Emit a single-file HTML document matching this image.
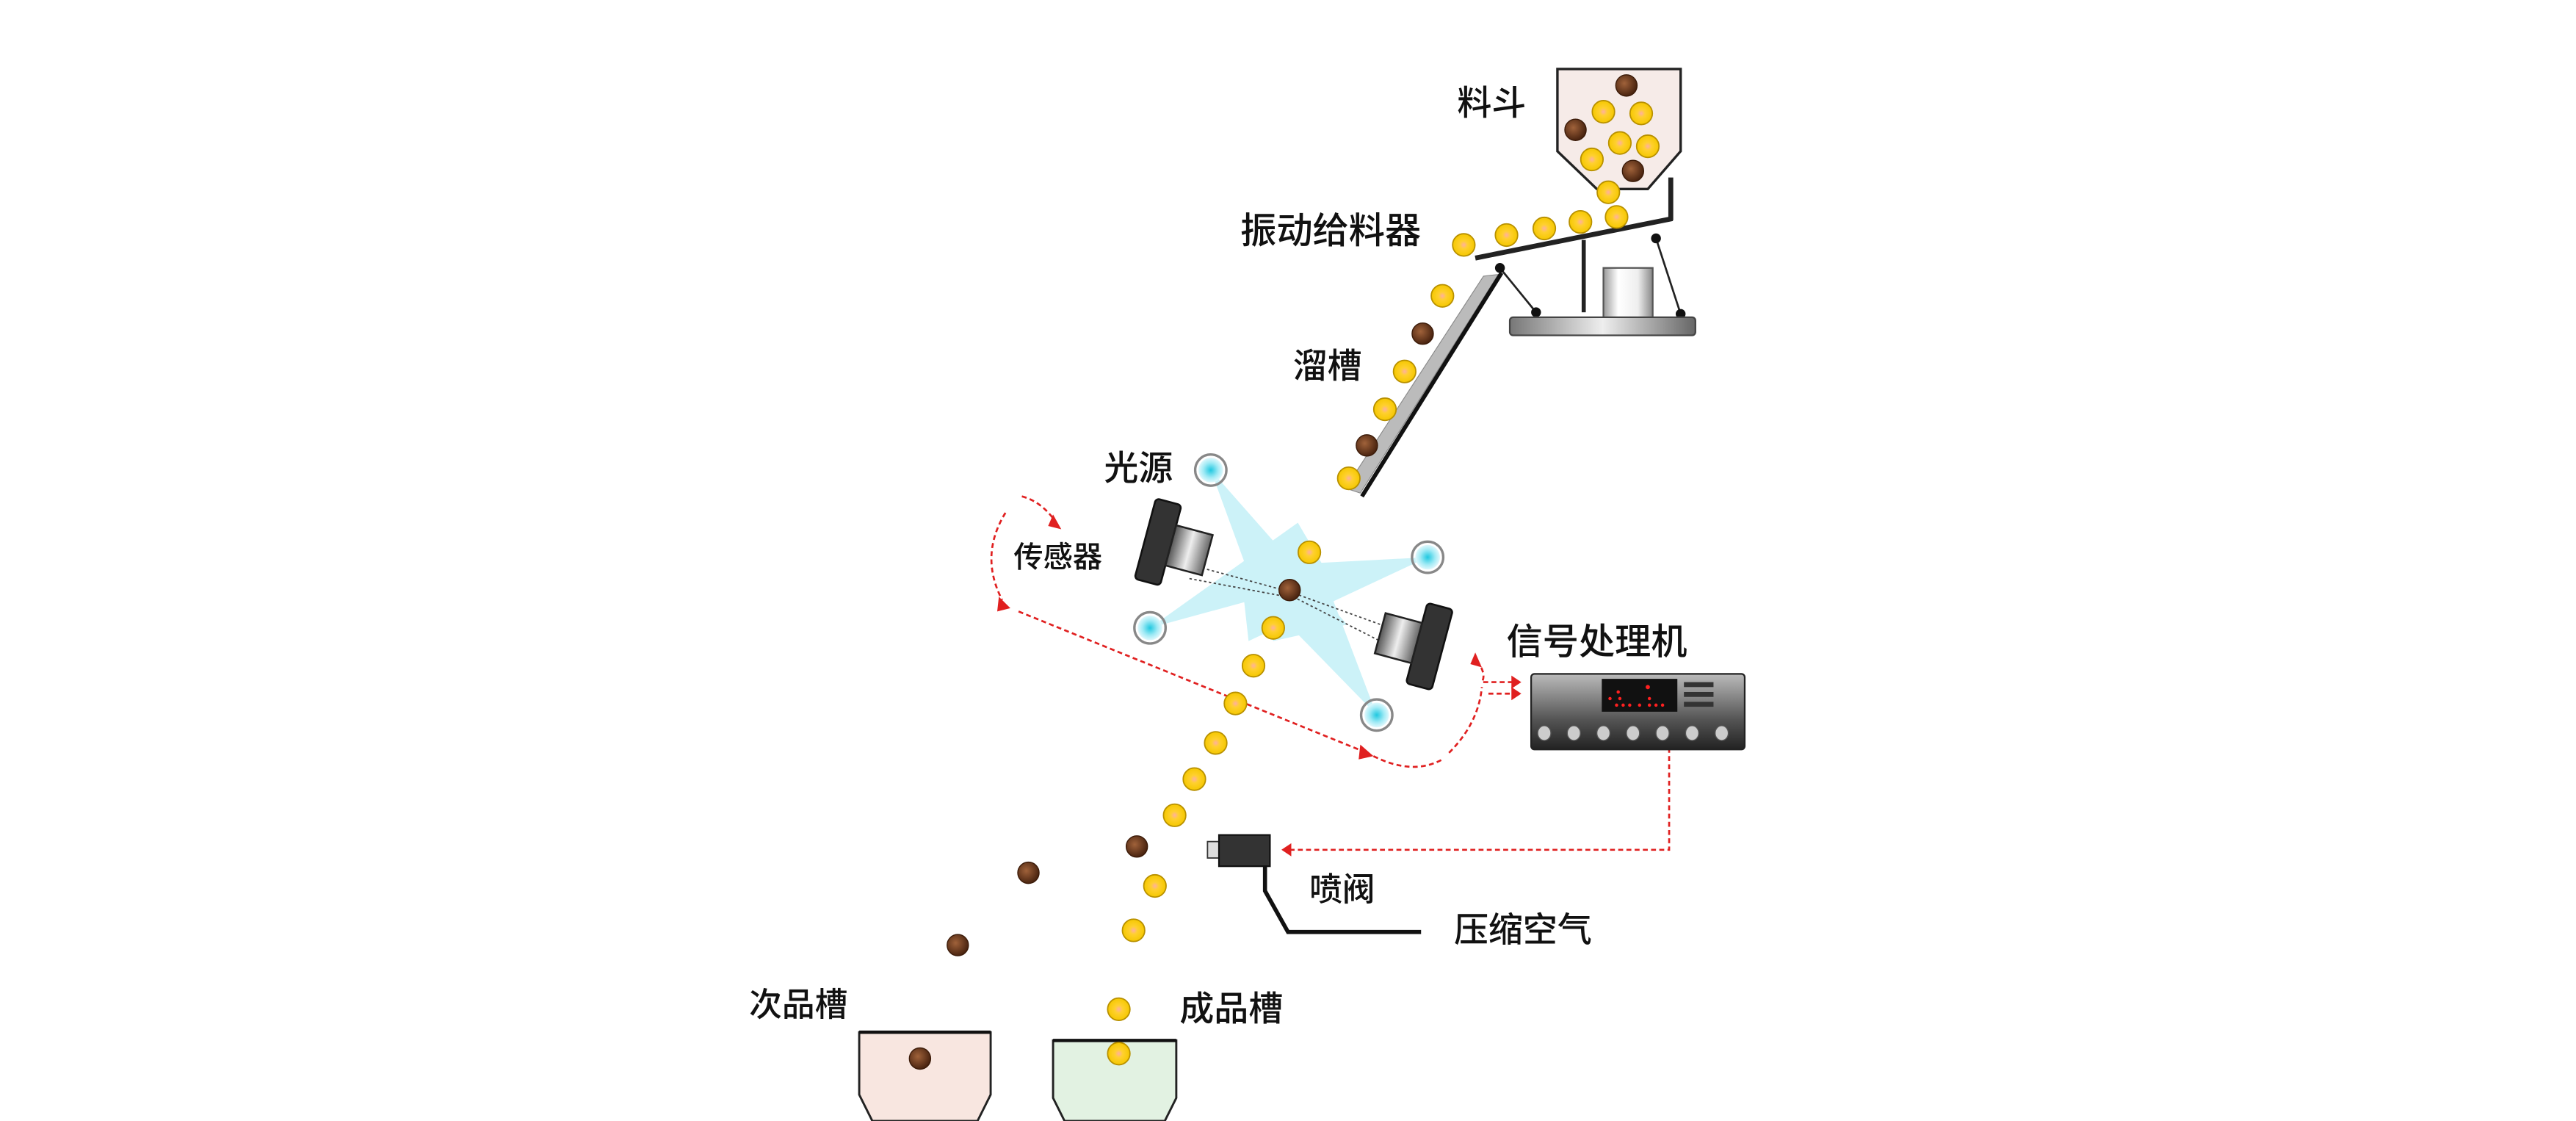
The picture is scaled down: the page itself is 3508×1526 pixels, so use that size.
<!DOCTYPE html>
<html><head><meta charset="utf-8"><style>
html,body{margin:0;padding:0;background:#fff;}
svg{display:block;}
text{font-family:"Liberation Sans","Noto Sans CJK SC",sans-serif;fill:#111;font-weight:500;}
</style></head><body>
<svg width="3508" height="1526" viewBox="0 0 1568 682" preserveAspectRatio="none" xmlns="http://www.w3.org/2000/svg">
<defs>
<radialGradient id="gy" cx="0.5" cy="0.5" r="0.5"><stop offset="0" stop-color="#ffb0a0"/><stop offset="0.35" stop-color="#ffd030"/><stop offset="1" stop-color="#f5c800"/></radialGradient>
<radialGradient id="br" cx="0.4" cy="0.4" r="0.6"><stop offset="0" stop-color="#a0623a"/><stop offset="1" stop-color="#4a2410"/></radialGradient>
<radialGradient id="cy" cx="0.5" cy="0.5" r="0.5"><stop offset="0" stop-color="#20c8e0"/><stop offset="0.6" stop-color="#a0eaf5"/><stop offset="1" stop-color="#e0f8fc"/></radialGradient>
<linearGradient id="cyl" x1="0" x2="1"><stop offset="0" stop-color="#999"/><stop offset="0.3" stop-color="#fff"/><stop offset="0.7" stop-color="#eee"/><stop offset="1" stop-color="#888"/></linearGradient>
<linearGradient id="base" x1="0" x2="1"><stop offset="0" stop-color="#777"/><stop offset="0.5" stop-color="#eee"/><stop offset="1" stop-color="#666"/></linearGradient>
<linearGradient id="box" x1="0" y1="0" x2="0" y2="1"><stop offset="0" stop-color="#bbb"/><stop offset="0.6" stop-color="#555"/><stop offset="1" stop-color="#222"/></linearGradient>
<linearGradient id="cam" x1="0" x2="1"><stop offset="0" stop-color="#555"/><stop offset="0.5" stop-color="#eee"/><stop offset="1" stop-color="#666"/></linearGradient>
<g id="y"><circle r="6.8" fill="url(#gy)" stroke="#b89000" stroke-width="0.8"/></g>
<g id="b"><circle r="6.5" fill="url(#br)" stroke="#3a1a08" stroke-width="0.6"/></g>
<g id="L"><circle r="9.5" fill="none" stroke="#888" stroke-width="1.5"/><circle r="7.5" fill="url(#cy)"/></g>
</defs>

<!-- hopper -->
<polygon points="948,42 1023,42 1023,92 1003,115 972,115 948,92" fill="#f6ebe8" stroke="#222" stroke-width="1.5"/>
<!-- feeder -->
<line x1="898" y1="157" x2="1018" y2="133" stroke="#222" stroke-width="3"/>
<line x1="1017" y1="108" x2="1017" y2="134" stroke="#222" stroke-width="3"/>
<line x1="964" y1="146" x2="964" y2="190" stroke="#222" stroke-width="2.5"/>
<line x1="913" y1="163" x2="935" y2="190" stroke="#222" stroke-width="1.2"/>
<line x1="1008" y1="145" x2="1023" y2="191" stroke="#222" stroke-width="1.2"/>
<circle cx="913" cy="163" r="3" fill="#111"/><circle cx="1008" cy="145" r="3" fill="#111"/>
<circle cx="935" cy="190" r="3" fill="#111"/><circle cx="1023" cy="191" r="3" fill="#111"/>
<rect x="976" y="163" width="30" height="31" fill="url(#cyl)" stroke="#555"/>
<rect x="919" y="193" width="113" height="11" rx="2" fill="url(#base)" stroke="#444"/>
<!-- chute -->
<polygon points="903,168 912,167 828,300 819,297" fill="#bbb" stroke="#888" stroke-width="0.5"/>
<line x1="914" y1="166" x2="829" y2="302" stroke="#111" stroke-width="2.5"/>

<!-- beams -->
<g fill="#8fe3f0" opacity="0.45">
<polygon points="737,286 775,390 820,380"/>
<polygon points="869,339 755,345 760,390"/>
<polygon points="700,382 790,318 810,352"/>
<polygon points="838,435 755,350 800,335"/>
</g>
<g stroke="#444" stroke-width="0.8" stroke-dasharray="1.5,1.5" fill="none">
<line x1="726" y1="344" x2="785" y2="360"/><line x1="724" y1="352" x2="783" y2="363"/>
<line x1="785" y1="360" x2="846" y2="382"/><line x1="787" y1="363" x2="844" y2="392"/>
</g>
<use href="#L" x="737" y="286"/><use href="#L" x="869" y="339"/><use href="#L" x="700" y="382"/><use href="#L" x="838" y="435"/>
<!-- sensors -->
<g transform="translate(706,330) rotate(15) scale(1.15)">
<rect x="-8" y="-22" width="14" height="44" rx="2" fill="#333" stroke="#111"/>
<rect x="6" y="-11" width="20" height="22" fill="url(#cam)" stroke="#222"/>
</g>
<g transform="translate(869,393) rotate(15) scale(1.15)">
<rect x="-6" y="-22" width="14" height="44" rx="2" fill="#333" stroke="#111"/>
<rect x="-26" y="-11" width="20" height="22" fill="url(#cam)" stroke="#222"/>
</g>

<!-- red loops -->
<g stroke="#e02020" stroke-width="1.2" stroke-dasharray="3,2" fill="none">
<path d="M622,302 Q634,305 643,318"/>
<path d="M612,312 Q596,338 610,365"/>
<path d="M620,372 L832,458"/>
<path d="M836,460 Q860,472 878,462"/>
<path d="M882,458 Q900,440 902,418"/>
<path d="M899,402 Q905,410 902,415 L924,415"/>
<path d="M924,422 L904,422"/>
<path d="M1016,455 L1016,517 L782,517"/>
</g>
<g fill="#e02020">
<polygon points="641,313 646,322 638,320"/>
<polygon points="608,363 615,370 607,372"/>
<polygon points="828,453 836,460 827,462"/>
<polygon points="898,397 902,406 895,404"/>
<polygon points="926,415 920,411 920,419"/>
<polygon points="926,422 920,418 920,426"/>
<polygon points="780,517 786,513 786,521"/>
</g>

<!-- processor -->
<rect x="932" y="410" width="130" height="46" rx="2" fill="url(#box)" stroke="#222"/>
<rect x="975" y="413" width="46" height="20" fill="#111"/>
<g fill="#ff2020"><circle cx="980" cy="425" r="1"/><circle cx="984" cy="429" r="1"/><circle cx="988" cy="429" r="1"/><circle cx="992" cy="429" r="1"/><circle cx="998" cy="429" r="1"/><circle cx="1004" cy="429" r="1"/><circle cx="1008" cy="429" r="1"/><circle cx="1012" cy="429" r="1"/><circle cx="1003" cy="418" r="1.3"/><circle cx="985" cy="421" r="1"/><circle cx="1004" cy="425" r="1"/><circle cx="986" cy="425" r="1"/></g>
<g fill="#333"><rect x="1025" y="415" width="18" height="3"/><rect x="1025" y="421" width="18" height="3"/><rect x="1025" y="427" width="18" height="3"/></g>
<g fill="#ccc" stroke="#555" stroke-width="0.6">
<ellipse cx="940" cy="446" rx="4" ry="4.5"/><ellipse cx="958" cy="446" rx="4" ry="4.5"/><ellipse cx="976" cy="446" rx="4" ry="4.5"/><ellipse cx="994" cy="446" rx="4" ry="4.5"/><ellipse cx="1012" cy="446" rx="4" ry="4.5"/><ellipse cx="1030" cy="446" rx="4" ry="4.5"/><ellipse cx="1048" cy="446" rx="4" ry="4.5"/>
</g>

<!-- valve -->
<rect x="735" y="512" width="7" height="10" fill="#ddd" stroke="#333" stroke-width="0.8"/>
<rect x="742" y="508" width="31" height="19" fill="#333" stroke="#111"/>
<path d="M770,527 L770,542 L784,567 L865,567" stroke="#111" stroke-width="2.5" fill="none"/>

<!-- balls -->
<use href="#b" x="990" y="52"/><use href="#y" x="976" y="68"/><use href="#y" x="999" y="69"/><use href="#b" x="959" y="79"/>
<use href="#y" x="986" y="87"/><use href="#y" x="1003" y="89"/><use href="#y" x="969" y="97"/><use href="#b" x="994" y="104"/>
<use href="#y" x="979" y="117"/>
<use href="#y" x="891" y="149"/><use href="#y" x="917" y="143"/><use href="#y" x="940" y="139"/><use href="#y" x="962" y="135"/><use href="#y" x="984" y="132"/>
<use href="#y" x="878" y="180"/><use href="#b" x="866" y="203"/><use href="#y" x="855" y="226"/><use href="#y" x="843" y="249"/><use href="#b" x="832" y="271"/><use href="#y" x="821" y="291"/>
<use href="#y" x="797" y="336"/><use href="#b" x="785" y="359"/><use href="#y" x="775" y="382"/><use href="#y" x="763" y="405"/><use href="#y" x="752" y="428"/><use href="#y" x="740" y="452"/><use href="#y" x="727" y="474"/><use href="#y" x="715" y="496"/>
<use href="#b" x="692" y="515"/><use href="#y" x="703" y="539"/><use href="#y" x="690" y="566"/>
<use href="#b" x="626" y="531"/><use href="#b" x="583" y="575"/>
<use href="#y" x="681" y="614"/>

<!-- bins -->
<polygon points="523,628 603,628 603,666 595,682 531,682 523,666" fill="#f8e6e0" stroke="#222" stroke-width="1.3"/>
<line x1="523" y1="628" x2="603" y2="628" stroke="#111" stroke-width="2"/>
<polygon points="641,633 716,633 716,668 709,682 648,682 641,668" fill="#e2f2e2" stroke="#222" stroke-width="1.3"/>
<line x1="641" y1="633" x2="716" y2="633" stroke="#111" stroke-width="2"/>
<use href="#b" x="560" y="644"/><use href="#y" x="681" y="641"/>

<!-- labels -->
<text x="887" y="70" font-size="21">料斗</text>
<text x="755" y="148" font-size="22">振动给料器</text>
<text x="787" y="230" font-size="21">溜槽</text>
<text x="672" y="292" font-size="21">光源</text>
<text x="617" y="345" font-size="18">传感器</text>
<text x="917" y="398" font-size="22">信号处理机</text>
<text x="797" y="548" font-size="20">喷阀</text>
<text x="885" y="573" font-size="21">压缩空气</text>
<text x="456" y="618" font-size="20">次品槽</text>
<text x="718" y="621" font-size="21">成品槽</text>
</svg>
</body></html>
